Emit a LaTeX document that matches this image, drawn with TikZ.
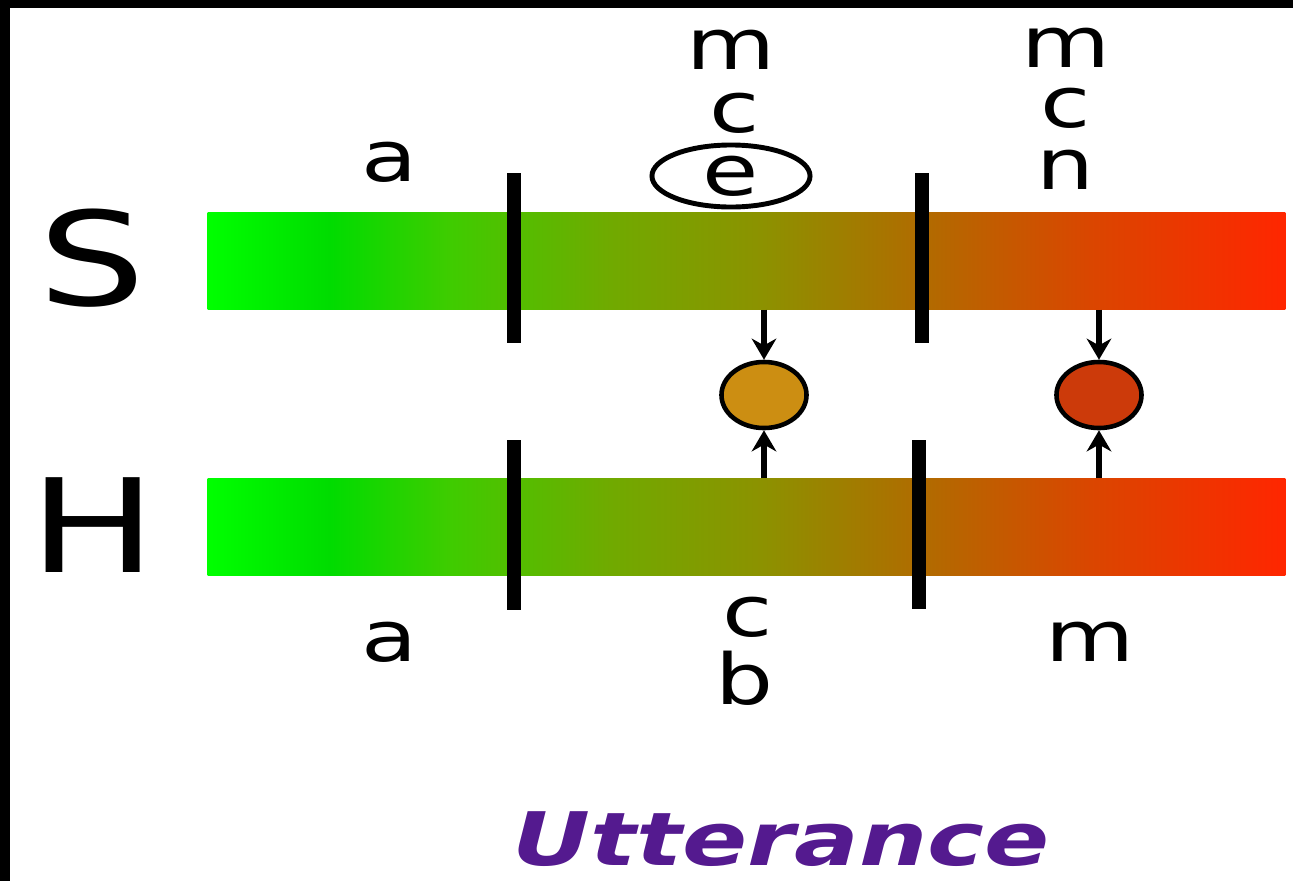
\documentclass[tikz,border=0pt]{standalone}
\usepackage{fontspec}
\usepackage{xcolor}
\usetikzlibrary{arrows.meta,shapes.geometric}

\newfontfamily\slidefont[FakeStretch=1.3]{DejaVu Sans}

\definecolor{gA}{HTML}{00FF00}
\definecolor{gB}{HTML}{00DC00}
\definecolor{gC}{HTML}{3FCC00}
\definecolor{gD}{HTML}{70AA00}
\definecolor{gE}{HTML}{8C9200}
\definecolor{gF}{HTML}{B06C00}
\definecolor{gG}{HTML}{DA4600}
\definecolor{gH}{HTML}{FF2600}
\definecolor{dotorange}{HTML}{CC8E12}
\definecolor{dotred}{HTML}{CC3A0A}
\definecolor{uttpurple}{HTML}{541A8F}

\pgfdeclarehorizontalshading{greenred}{100bp}{color(0bp)=(gA); color(25bp)=(gA);
  color(30.65bp)=(gB); color(36.25bp)=(gC); color(43.65bp)=(gD);
  color(50.65bp)=(gE); color(58.05bp)=(gF); color(65.95bp)=(gG);
  color(75bp)=(gH); color(100bp)=(gH)}

\begin{document}
\begin{tikzpicture}[x=0.01cm,y=-0.01cm,
    bar/.style={shading=greenred, minimum width=10.77cm, minimum height=0.96cm, inner sep=0pt},
    letter/.style={font=\slidefont\fontsize{20}{24}\selectfont, inner sep=0pt},
    speaker/.style={font=\slidefont\fontsize{37}{44}\selectfont, inner sep=0pt},
    meetdot/.style={ellipse, draw, line width=1.3pt, minimum width=0.85cm, minimum height=0.66cm, inner sep=0pt},
    segtick/.style={line width=3.7pt},
    arr/.style={-{Stealth[length=6pt,width=7pt]}, line width=1.6pt}]
    \useasboundingbox (0,0) rectangle (1293,881);
    \fill (0,0) rectangle (10,881); \fill (0,0) rectangle (1293,8);
    % the two bars
    \node[bar] (sbar) at (746.5,261) {}; \node[bar] (hbar) at (746.5,527) {};
    \node[speaker] (S) at (92,258) {S}; \node[speaker] (H) at (93,525) {H};
    \draw[segtick] (514,173) -- (514,343); \draw[segtick] (922,173) -- (922,343);
    \draw[segtick] (514,440) -- (514,610); \draw[segtick] (919,440) -- (919,609);
    % labels above S
    \node[letter] (sa) at (390,162) {a};
    \node[letter] (sm1) at (731,50) {m}; \node[letter] (sc1) at (735,113) {c};
    \node[letter, ellipse, draw, line width=1.4pt, minimum width=1.58cm,
      minimum height=0.62cm] (se) at (731,176) {e};
    \node[letter] (sm2) at (1066,48) {m}; \node[letter] (sc2) at (1066,108) {c};
    \node[letter] (sn) at (1065,170) {n};
    % labels below H
    \node[letter] (ha) at (390,642) {a};
    \node[letter] (hc) at (748,617) {c}; \node[letter] (hb) at (745,678) {b};
    \node[letter] (hm) at (1090,642) {m};
    % meeting points
    \node[meetdot, fill=dotorange] (odot) at (764,395) {};
    \node[meetdot, fill=dotred] (rdot) at (1099,395) {};
    \draw[arr] (sbar.south -| odot) -- (odot.north);
    \draw[arr] (hbar.north -| odot) -- (odot.south);
    \draw[arr] (sbar.south -| rdot) -- (rdot.north);
    \draw[arr] (hbar.north -| rdot) -- (rdot.south);
    \node[font=\slidefont\fontsize{21}{24}\selectfont\bfseries\itshape,
      text=uttpurple, inner sep=0pt] (utt) at (781,839) {Utterance};
  \end{tikzpicture}
\end{document}
